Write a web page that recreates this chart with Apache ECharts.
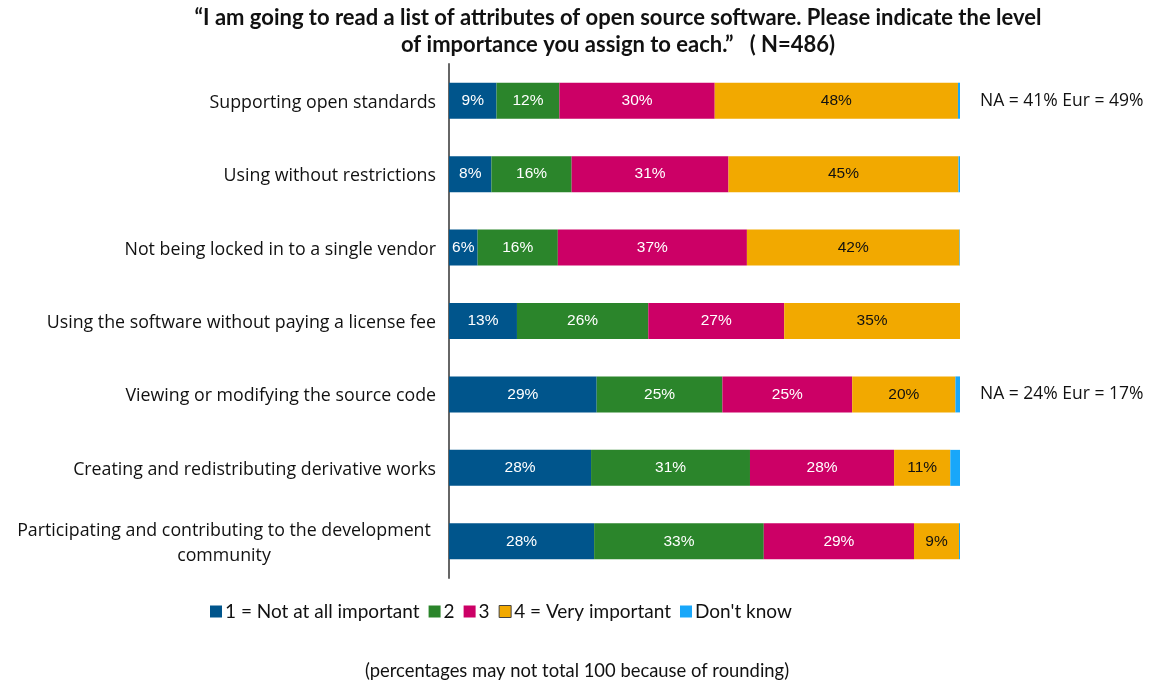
<!DOCTYPE html>
<html>
<head>
<meta charset="utf-8">
<script src="https://cdn.jsdelivr.net/npm/echarts@6/dist/echarts.min.js"></script>
<style>html,body{margin:0;padding:0;background:#fff}#c{width:1151px;height:683px}</style>
</head>
<body>
<div id="c"></div>
<script>
var categories = [
  'Supporting open standards',
  'Using without restrictions',
  'Not being locked in to a single vendor',
  'Using the software without paying a license fee',
  'Viewing or modifying the source code',
  'Creating and redistributing derivative works',
  'Participating and contributing to the development\ncommunity'
];
var seriesNames = ['1 = Not at all important', '2', '3', '4 = Very important', "Don't know"];
var notImportant = [9.3, 8.3, 5.6, 13.3, 28.9, 27.8, 28.4];
var rating2      = [12.3, 15.7, 15.7, 25.7, 24.6, 31.1, 33.2];
var rating3      = [30.4, 30.7, 37.0, 26.6, 25.4, 28.2, 29.4];
var veryImportant= [47.6, 45.0, 41.6, 34.6, 20.2, 11.0, 8.8];
var dontKnow     = [0.4, 0.3, 0.4, 0.0, 0.9, 1.9, 0.4];
var annotations  = ['NA = 41% Eur = 49%', '', '', '', 'NA = 24% Eur = 17%', '', ''];
var titleText = '\u201cI am going to read a list of attributes of open source software. Please indicate the level\nof importance you assign to each.\u201d   ( N=486)';
var footnote = '(percentages may not total 100 because of rounding)';

var colors = ['#00558c', '#2b852b', '#cc0066', '#f2a900', '#18a7fa'];
var values = [notImportant, rating2, rating3, veryImportant, dontKnow];
var labelColors = ['#fff', '#fff', '#fff', '#111', '#fff'];

var chart = echarts.init(document.getElementById('c'), null, {renderer: 'canvas'});
var series = seriesNames.map(function (name, i) {
  return {
    name: name,
    type: 'bar',
    stack: 'total',
    barWidth: 36,
    data: values[i],
    itemStyle: {color: colors[i]},
    label: {
      show: i < 4,
      position: 'inside',
      color: labelColors[i],
      fontFamily: 'Liberation Sans',
      fontSize: 15.5,
      formatter: function (p) { return Math.round(p.value) + '%'; }
    },
    emphasis: {disabled: true}
  };
});

chart.setOption({
  animation: false,
  title: [
    {
      text: titleText,
      left: 613, top: -1, textAlign: 'center',
      textStyle: {fontFamily: 'Lato', fontWeight: 'bold', fontSize: 22, lineHeight: 27, color: '#111'}
    },
    {
      text: footnote,
      left: 572, top: 657, textAlign: 'center',
      textStyle: {fontFamily: 'Lato', fontWeight: 'normal', fontSize: 18.4, color: '#111'}
    }
  ],
  legend: {
    data: seriesNames.map(function (n, i) {
      return i === 3 ? {name: n, itemStyle: {borderColor: '#444', borderWidth: 1}} : {name: n};
    }),
    left: 205, top: 597,
    icon: 'rect',
    itemWidth: 12, itemHeight: 12, itemGap: 9,
    textStyle: {fontFamily: 'Lato', fontSize: 19, color: '#111', padding: [0, 0, 0, -2]}
  },
  grid: {left: 449, right: 191, top: 64, bottom: 105},
  xAxis: {
    type: 'value', min: 0, max: 100, show: false
  },
  yAxis: [
    {
      type: 'category',
      data: categories,
      inverse: true,
      axisLine: {show: true, lineStyle: {color: '#666', width: 2}},
      axisTick: {show: false},
      axisLabel: {
        margin: 13,
        fontFamily: 'Open Sans',
        fontSize: 17.8,
        color: '#111',
        lineHeight: 25,
        padding: [4, 0, 0, 0],
        formatter: function (v) {
          return v.indexOf('\n') >= 0 ? '{c|' + v + '}' : v;
        },
        rich: {c: {width: 424, align: 'center', fontFamily: 'Open Sans', fontSize: 17.8, lineHeight: 25, color: '#111'}}
      }
    },
    {
      type: 'category',
      data: categories,
      inverse: true,
      position: 'right',
      axisLine: {show: false},
      axisTick: {show: false},
      axisLabel: {
        margin: 20,
        align: 'left',
        fontFamily: 'Open Sans',
        fontSize: 17.5,
        color: '#111',
        padding: [6, 0, 0, 0],
        formatter: function (v, idx) { return annotations[idx]; }
      }
    }
  ],
  series: series
});
</script>
</body>
</html>
